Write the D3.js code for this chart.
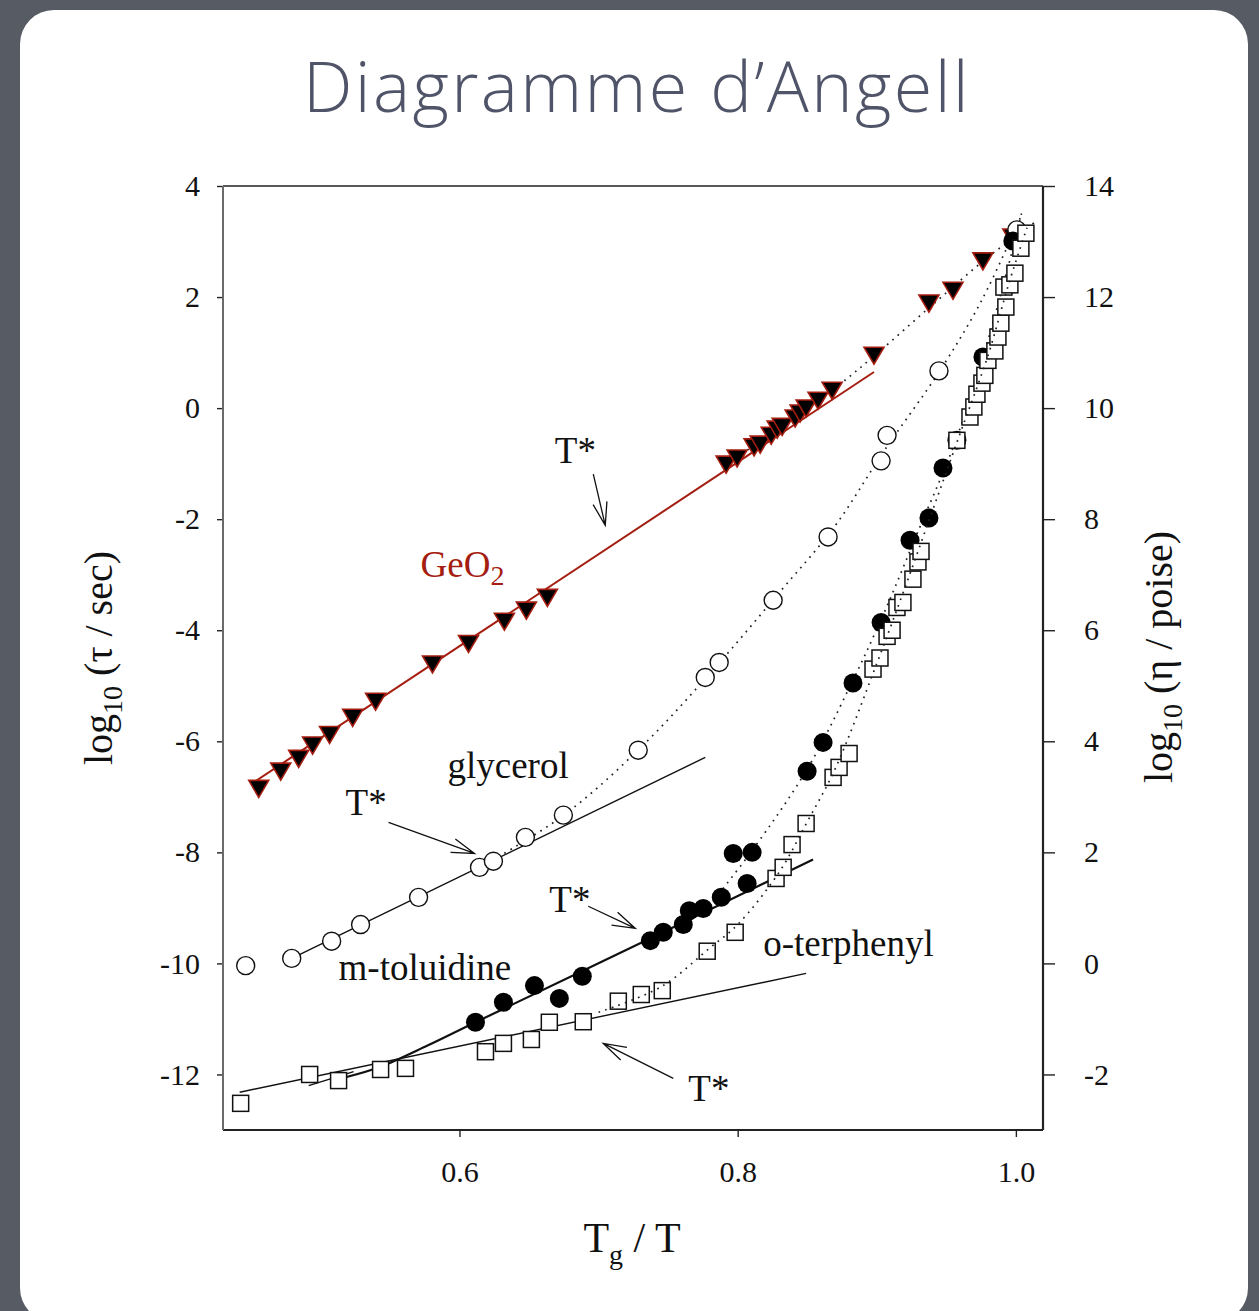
<!DOCTYPE html>
<html>
<head>
<meta charset="utf-8">
<script src="https://cdn.jsdelivr.net/npm/d3@7"></script>
<style>
  html, body { margin: 0; padding: 0; background: #555963; }
  svg { display: block; }
</style>
</head>
<body>
<svg id="chart" width="1259" height="1311"></svg>
<script>
// ---- Data: Tg/T versus log10(relaxation time / s) ----
const geo2Points = [
  [0.4557,-6.83],[0.4715,-6.52],[0.4844,-6.29],[0.4944,-6.05],[0.5066,-5.86],
  [0.5232,-5.55],[0.5397,-5.26],[0.5806,-4.59],[0.6065,-4.22],[0.6323,-3.82],
  [0.6481,-3.62],[0.6632,-3.39],[0.7917,-0.99],[0.7996,-0.88],[0.8118,-0.68],
  [0.8162,-0.63],[0.8241,-0.47],[0.8284,-0.36],[0.8320,-0.31],[0.8413,-0.16],
  [0.8449,-0.07],[0.8492,0.02],[0.8578,0.16],[0.8679,0.34],[0.8980,0.97],
  [0.9375,1.91],[0.9548,2.14],[0.9763,2.67],[0.9978,3.10]
];
const glycerolPoints = [
  [0.4463,-10.04],[0.4794,-9.91],[0.5081,-9.60],[0.5289,-9.30],[0.5706,-8.81],
  [0.6144,-8.27],[0.6244,-8.16],[0.6474,-7.73],[0.6747,-7.33],[0.7285,-6.16],
  [0.7767,-4.85],[0.7867,-4.58],[0.8255,-3.46],[0.8650,-2.32],[0.9031,-0.95],
  [0.9074,-0.49],[0.9447,0.67],[1.0007,3.21]
];
const toluidinePoints = [
  [0.6115,-11.06],[0.6316,-10.70],[0.6539,-10.40],[0.6718,-10.63],[0.6883,-10.23],
  [0.7372,-9.59],[0.7465,-9.44],[0.7609,-9.30],[0.7652,-9.05],[0.7752,-9.01],
  [0.7882,-8.81],[0.8068,-8.56],[0.7968,-8.02],[0.8104,-8.00],[0.8499,-6.54],
  [0.8614,-6.02],[0.8829,-4.95],[0.9031,-3.86],[0.9239,-2.38],[0.9375,-1.98],
  [0.9476,-1.08],[0.9576,-0.58],[0.9763,0.92],[0.9978,3.01]
];
const terphenylPoints = [
  [0.4427,-12.52],[0.4923,-12.00],[0.5131,-12.11],[0.5433,-11.91],[0.5612,-11.89],
  [0.6187,-11.59],[0.6316,-11.44],[0.6517,-11.37],[0.6646,-11.06],[0.6890,-11.05],
  [0.7142,-10.68],[0.7307,-10.56],[0.7458,-10.49],[0.7781,-9.78],[0.7982,-9.44],
  [0.8276,-8.47],[0.8327,-8.27],[0.8391,-7.86],[0.8492,-7.48],[0.8686,-6.65],
  [0.8729,-6.47],[0.8801,-6.22],[0.8973,-4.70],[0.9023,-4.50],[0.9074,-4.11],
  [0.9110,-4.00],[0.9145,-3.59],[0.9188,-3.50],[0.9260,-3.08],[0.9296,-2.77],
  [0.9318,-2.58],[0.9576,-0.58],[0.9670,-0.16],[0.9698,0.02],[0.9720,0.25],
  [0.9756,0.45],[0.9777,0.59],[0.9799,0.86],[0.9849,1.03],[0.9871,1.28],
  [0.9892,1.53],[0.9928,1.82],[0.9914,2.18],[0.9957,2.22],[0.9993,2.43],
  [1.0036,2.88],[1.0072,3.15]
];

// High-temperature Arrhenius fits (solid lines)
const geo2Arrhenius      = [[0.452,-6.74],[0.898,0.65]];
const glycerolArrhenius  = [[0.4794,-9.91],[0.7767,-6.29]];
const terphenylArrhenius = [[0.442,-12.32],[0.8492,-10.18]];
const toluidineFit       = [[0.5181,-12.05],[0.5433,-11.86],[0.577,-11.48],[0.6115,-11.06],[0.737,-9.55],[0.8542,-8.13]];
const toluidineTangent   = [[0.4916,-12.20],[0.5239,-11.95]];

// Low-temperature fits (dotted curves)
const geo2Curve = [[0.79,-1.02],[0.83,-0.38],[0.87,0.36],[0.90,0.98],[0.94,1.86],[0.98,2.72],[1.016,3.39]];
const glycerolCurve = [[0.615,-8.27],[0.675,-7.33],[0.73,-6.12],[0.78,-4.78],[0.83,-3.32],[0.87,-2.12],
  [0.905,-0.78],[0.945,0.66],[0.975,1.92],[1.0036,3.45]];
const toluidineCurve = [[0.78,-8.95],[0.81,-7.98],[0.85,-6.5],[0.88,-5.05],[0.905,-3.7],[0.93,-2.2],
  [0.955,-0.7],[0.975,0.8],[0.995,2.6],[1.0043,3.53]];
const terphenylCurve = [[0.70,-10.88],[0.745,-10.42],[0.78,-9.72],[0.80,-9.3],[0.83,-8.35],[0.85,-7.45],
  [0.87,-6.5],[0.90,-4.6],[0.92,-3.25],[0.94,-1.85],[0.96,-0.45],[0.98,0.95],[0.995,2.25],[1.008,3.25]];

// Axis ticks
const xTicks = [0.6, 0.8, 1.0];
const yTicks = [-12, -10, -8, -6, -4, -2, 0, 2, 4];
const yRightTicks = [-2, 0, 2, 4, 6, 8, 10, 12, 14];

// ---- Layout ----
const W = 1259, H = 1311;
const plot = { left: 223, right: 1043, top: 186, bottom: 1130 };
const red = "#a51d10";
const serif = "'Liberation Serif', 'Times New Roman', serif";

const svg = d3.select("#chart");

// Slide backdrop and white card
svg.append("rect").attr("width", W).attr("height", H).attr("fill", "#575b64");
svg.append("rect").attr("x", 20).attr("y", 10).attr("width", 1228).attr("height", 1312)
  .attr("rx", 34).attr("fill", "#ffffff");

// Title
svg.append("text")
  .attr("x", 637).attr("y", 112)
  .attr("text-anchor", "middle")
  .attr("font-family", "'Open Sans', Lato, sans-serif")
  .attr("font-weight", 300)
  .attr("font-size", 70)
  .attr("letter-spacing", 2.4)
  .attr("fill", "#505468")
  .text("Diagramme d\u2019Angell");

const x = d3.scaleLinear().domain([0.43, 1.0195]).range([plot.left, plot.right]);
const y = d3.scaleLinear().domain([-13, 4]).range([plot.bottom, plot.top]);
const yR = d3.scaleLinear().domain([-3, 14]).range([plot.bottom, plot.top]);

const g = svg.append("g");

// Axes
const fmt = d => String(d);
const leftAxis = g.append("g").attr("transform", `translate(${plot.left},0)`)
  .call(d3.axisLeft(y).tickValues(yTicks).tickSize(6).tickPadding(17).tickFormat(fmt));
const rightAxis = g.append("g").attr("transform", `translate(${plot.right},0)`)
  .call(d3.axisRight(yR).tickValues(yRightTicks).tickSize(12).tickPadding(29).tickFormat(fmt));
const bottomAxis = g.append("g").attr("transform", `translate(0,${plot.bottom})`)
  .call(d3.axisBottom(x).tickValues(xTicks).tickSize(7).tickPadding(24).tickFormat(d3.format(".1f")));

[leftAxis, rightAxis, bottomAxis].forEach(a => {
  a.selectAll("path.domain").remove();
  a.selectAll("line").attr("stroke", "#222").attr("stroke-width", 1.4);
  a.selectAll("text").attr("font-family", serif).attr("font-size", 30).attr("fill", "#111");
});
rightAxis.selectAll("text").attr("text-anchor", "start");

// Frame
g.append("line").attr("x1", plot.left).attr("x2", plot.right).attr("y1", plot.top).attr("y2", plot.top)
  .attr("stroke", "#222").attr("stroke-width", 1.5);
g.append("line").attr("x1", plot.left).attr("x2", plot.right).attr("y1", plot.bottom).attr("y2", plot.bottom)
  .attr("stroke", "#222").attr("stroke-width", 2);
g.append("line").attr("x1", plot.right).attr("x2", plot.right).attr("y1", plot.top).attr("y2", plot.bottom)
  .attr("stroke", "#222").attr("stroke-width", 2.2);
g.append("line").attr("x1", plot.left).attr("x2", plot.left).attr("y1", plot.top).attr("y2", plot.bottom)
  .attr("stroke", "#6a6a6a").attr("stroke-width", 2);

// Axis titles
const leftTitle = svg.append("text")
  .attr("transform", `translate(112,658) rotate(-90)`)
  .attr("text-anchor", "middle").attr("font-family", serif).attr("font-size", 40).attr("fill", "#111");
leftTitle.append("tspan").text("log");
leftTitle.append("tspan").attr("font-size", 28).attr("dy", 10).text("10");
leftTitle.append("tspan").attr("dy", -10).text(" (\u03c4 / sec)");

const rightTitle = svg.append("text")
  .attr("transform", `translate(1172,657) rotate(-90)`)
  .attr("text-anchor", "middle").attr("font-family", serif).attr("font-size", 40).attr("fill", "#111");
rightTitle.append("tspan").text("log");
rightTitle.append("tspan").attr("font-size", 28).attr("dy", 10).text("10");
rightTitle.append("tspan").attr("dy", -10).text(" (\u03b7 / poise)");

const bottomTitle = svg.append("text")
  .attr("x", 632).attr("y", 1252)
  .attr("text-anchor", "middle").attr("font-family", serif).attr("font-size", 42).attr("fill", "#111");
bottomTitle.append("tspan").text("T");
bottomTitle.append("tspan").attr("font-size", 28).attr("dy", 12).text("g");
bottomTitle.append("tspan").attr("dy", -12).text(" / T");

// Curves
const straight = d3.line().x(d => x(d[0])).y(d => y(d[1]));
const smooth = d3.line().x(d => x(d[0])).y(d => y(d[1])).curve(d3.curveCatmullRom.alpha(0.5));

const dotted = (data) => g.append("path").datum(data).attr("d", smooth)
  .attr("fill", "none").attr("stroke", "#222").attr("stroke-width", 1.7)
  .attr("stroke-dasharray", "1.7 5.3");

dotted(geo2Curve);
dotted(glycerolCurve);
dotted(toluidineCurve);

g.append("path").datum(geo2Arrhenius).attr("d", straight)
  .attr("fill", "none").attr("stroke", red).attr("stroke-width", 2);
g.append("path").datum(glycerolArrhenius).attr("d", straight)
  .attr("fill", "none").attr("stroke", "#111").attr("stroke-width", 1.4);
g.append("path").datum(terphenylArrhenius).attr("d", straight)
  .attr("fill", "none").attr("stroke", "#111").attr("stroke-width", 1.4);
g.append("path").datum(toluidineFit).attr("d", smooth)
  .attr("fill", "none").attr("stroke", "#111").attr("stroke-width", 2.2);
g.append("path").datum(toluidineTangent).attr("d", straight)
  .attr("fill", "none").attr("stroke", "#111").attr("stroke-width", 1.4);

// Markers
g.append("g").selectAll("path").data(geo2Points).join("path")
  .attr("transform", d => `translate(${x(d[0])},${y(d[1])})`)
  .attr("d", "M-10,-7 L10,-7 L0,10 Z")
  .attr("fill", "#000").attr("stroke", red).attr("stroke-width", 1.6).attr("stroke-linejoin", "miter");

g.append("g").selectAll("circle").data(glycerolPoints).join("circle")
  .attr("cx", d => x(d[0])).attr("cy", d => y(d[1])).attr("r", 9)
  .attr("fill", "#fff").attr("stroke", "#111").attr("stroke-width", 1.4);

g.append("g").selectAll("circle").data(toluidinePoints).join("circle")
  .attr("cx", d => x(d[0])).attr("cy", d => y(d[1])).attr("r", 9.5)
  .attr("fill", "#000");

g.append("g").selectAll("rect").data(terphenylPoints).join("rect")
  .attr("x", d => x(d[0]) - 8).attr("y", d => y(d[1]) - 8)
  .attr("width", 16).attr("height", 16)
  .attr("fill", "#fff").attr("stroke", "#111").attr("stroke-width", 1.5);

dotted(terphenylCurve);

// Annotations
const arrows = [
  { from: [0.6962,-1.19], to: [0.7048,-2.11] },
  { from: [0.549,-7.46],  to: [0.6108,-8.02] },
  { from: [0.6926,-8.97], to: [0.7264,-9.37] },
  { from: [0.7537,-12.07], to: [0.7034,-11.44] }
];
arrows.forEach(a => {
  const x1 = x(a.from[0]), y1 = y(a.from[1]), x2 = x(a.to[0]), y2 = y(a.to[1]);
  const ang = Math.atan2(y2 - y1, x2 - x1), L = 24, spread = 0.3;
  const p = (t) => [x2 - L * Math.cos(ang + t), y2 - L * Math.sin(ang + t)];
  const w1 = p(spread), w2 = p(-spread);
  g.append("path")
    .attr("d", `M${x1},${y1} L${x2},${y2} M${w1[0]},${w1[1]} L${x2},${y2} L${w2[0]},${w2[1]}`)
    .attr("fill", "none").attr("stroke", "#111").attr("stroke-width", 1.3);
});

const labels = [
  { text: "T*", at: [0.6833,-0.99], anchor: "middle" },
  { text: "glycerol", at: [0.5914,-6.67], anchor: "start" },
  { text: "T*", at: [0.5181,-7.33], anchor: "start" },
  { text: "m-toluidine", at: [0.5131,-10.29], anchor: "start" },
  { text: "T*", at: [0.6646,-9.08], anchor: "start" },
  { text: "o-terphenyl", at: [0.8183,-9.86], anchor: "start" },
  { text: "T*", at: [0.7645,-12.47], anchor: "start" }
];
labels.forEach(l => {
  g.append("text").attr("x", x(l.at[0])).attr("y", y(l.at[1]))
    .attr("text-anchor", l.anchor).attr("font-family", serif).attr("font-size", 37)
    .attr("fill", "#111").text(l.text);
});

const geoLabel = g.append("text").attr("x", x(0.572)).attr("y", y(-3.05))
  .attr("font-family", serif).attr("font-size", 37).attr("fill", red);
geoLabel.append("tspan").text("GeO");
geoLabel.append("tspan").attr("font-size", 28).attr("dy", 8).text("2");
</script>
</body>
</html>
